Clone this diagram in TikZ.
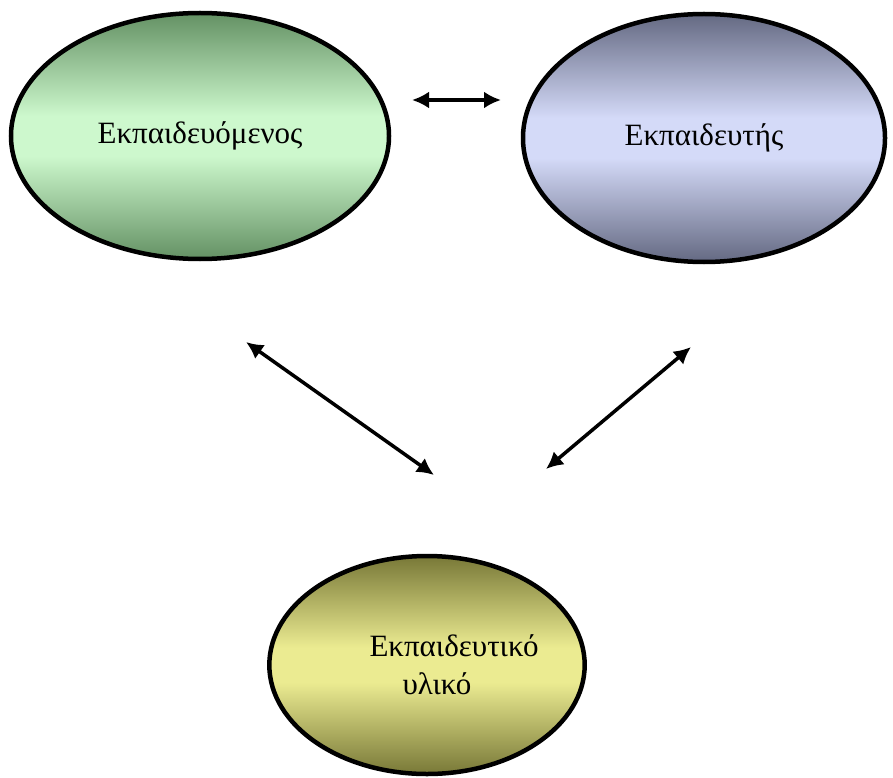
\documentclass[tikz,border=0pt]{standalone}
\usepackage{fontspec}
\setmainfont{Liberation Serif}
\usetikzlibrary{shapes.geometric,arrows.meta,positioning,calc}

\definecolor{greendark}{RGB}{100,145,100}
\definecolor{greenlight}{RGB}{205,248,205}
\definecolor{bluedark}{RGB}{100,105,130}
\definecolor{bluelight}{RGB}{212,218,248}
\definecolor{yellowdark}{RGB}{120,120,55}
\definecolor{yellowlight}{RGB}{235,235,145}

% dark at top and bottom, light in the middle
\pgfdeclareverticalshading{greenband}{100bp}{color(0bp)=(greendark); color(25bp)=(greendark);
	color(46bp)=(greenlight); color(54bp)=(greenlight); color(75bp)=(greendark); color(100bp)=(greendark)}
\pgfdeclareverticalshading{blueband}{100bp}{color(0bp)=(bluedark); color(25bp)=(bluedark);
	color(46bp)=(bluelight); color(54bp)=(bluelight); color(75bp)=(bluedark); color(100bp)=(bluedark)}
\pgfdeclareverticalshading{yellowband}{100bp}{color(0bp)=(yellowdark); color(25bp)=(yellowdark);
	color(46bp)=(yellowlight); color(54bp)=(yellowlight); color(75bp)=(yellowdark); color(100bp)=(yellowdark)}

\tikzset{
	blob/.style={ellipse, draw=black, line width=4.5pt, inner sep=0pt,
		font=\fontsize{31}{38}\selectfont, align=center},
	link/.style={{Latex[length=17pt,width=17pt]}-{Latex[length=17pt,width=17pt]}, line width=3.5pt}
}

\begin{document}
\begin{tikzpicture}[x=1pt,y=-1pt]
					\useasboundingbox (0,0) rectangle (893,778);

					% Learner
					\node[blob, minimum width=378pt, minimum height=246pt, shading=greenband]
						(learner) at (200,136) {Εκπαιδευόμενος};

					% Trainer
					\node[blob, minimum width=362pt, minimum height=248pt, shading=blueband]
						(trainer) at (704,138) {Εκπαιδευτής};

					% Material
					\node[blob, minimum width=312pt, minimum height=218pt, shading=yellowband]
						(material) at (427,665) {\hspace*{54pt}Εκπαιδευτικό\\\hspace*{20pt}υλικό};

					\coordinate (lt) at (412,100);
					\coordinate (rt) at (501,100);
					\coordinate (ld) at (246,342);
					\coordinate (lm) at (434,475);
					\coordinate (rd) at (691,347);
					\coordinate (rm) at (546,469);

					\draw[link] (lt) -- (rt);
					\draw[link] (ld) -- (lm);
					\draw[link] (rd) -- (rm);
				\end{tikzpicture}
\end{document}
